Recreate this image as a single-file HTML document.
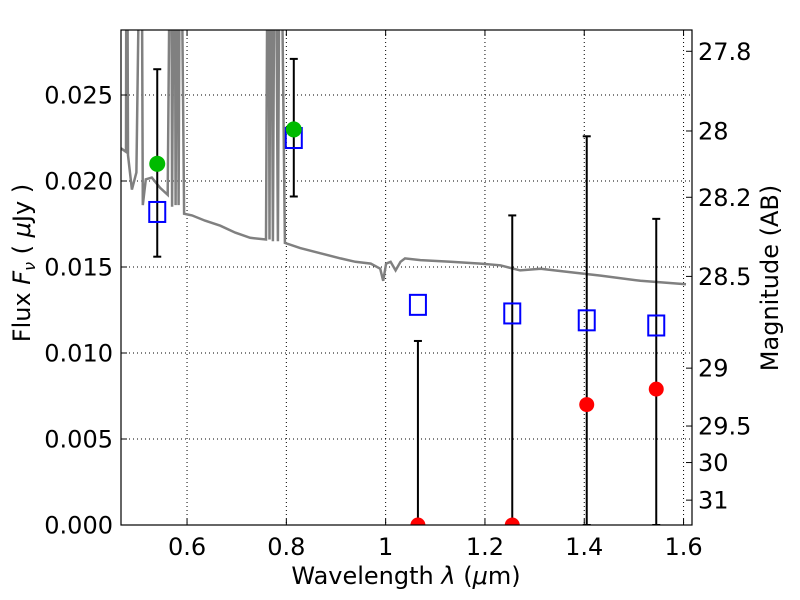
<!DOCTYPE html>
<html><head><meta charset="utf-8"><style>
body{margin:0;background:#fff}
svg{display:block;font-family:"DejaVu Sans","Liberation Sans",sans-serif}
</style></head><body>
<svg id="c" width="800" height="600"></svg>
<script>
const spectrum=[[0.467,0.0219],[0.477,0.0217],[0.478,0.04],[0.479,0.04],[0.481,0.0215],[0.489,0.0195],[0.498,0.0205],[0.507,0.04],[0.508,0.04],[0.511,0.0186],[0.517,0.0201],[0.529,0.0202],[0.546,0.0196],[0.561,0.0192],[0.567,0.04],[0.568,0.04],[0.570,0.0185],[0.574,0.04],[0.575,0.04],[0.577,0.0186],[0.580,0.04],[0.581,0.04],[0.583,0.0186],[0.586,0.04],[0.587,0.04],[0.594,0.0181],[0.610,0.018],[0.636,0.0177],[0.667,0.0174],[0.697,0.017],[0.727,0.0167],[0.759,0.0166],[0.763,0.04],[0.764,0.04],[0.766,0.0166],[0.768,0.04],[0.769,0.04],[0.773,0.0165],[0.777,0.04],[0.778,0.04],[0.783,0.0165],[0.787,0.04],[0.788,0.04],[0.797,0.0164],[0.828,0.0161],[0.868,0.0158],[0.909,0.0155],[0.939,0.0153],[0.970,0.0152],[0.989,0.0149],[0.995,0.0142],[1.001,0.0152],[1.010,0.0153],[1.020,0.0148],[1.030,0.0153],[1.039,0.0155],[1.070,0.0154],[1.131,0.0153],[1.191,0.0152],[1.231,0.0151],[1.271,0.0148],[1.312,0.0149],[1.373,0.0147],[1.433,0.0145],[1.513,0.0142],[1.605,0.014]];
const bandX=[0.54,0.815,1.065,1.255,1.405,1.545];
const modelFlux=[0.0182,0.0225,0.0128,0.0123,0.0119,0.0116];
const errLo=[0.0156,0.0191,0,0,0,0];
const errHi=[0.0265,0.0271,0.0107,0.0180,0.0226,0.0178];
const greenX=[0.54,0.815];
const greenF=[0.021,0.023];
const redX=[1.065,1.255,1.405,1.545];
const redF=[0,0,0.0070,0.0079];
const xTicks=[0.6,0.8,1.0,1.2,1.4,1.6];
const xTickLabels=["0.6","0.8","1","1.2","1.4","1.6"];
const yTicks=[0,0.005,0.010,0.015,0.020,0.025];
const yTickLabels=["0.000","0.005","0.010","0.015","0.020","0.025"];
const magTicks=[27.8,28,28.2,28.5,29,29.5,30,31];
const magLabels=["27.8","28","28.2","28.5","29","29.5","30","31"];

const L=121,R=692,T=30,B=525;
const xmin=0.467,xmax=1.617,ymin=0,ymax=0.02878;
const X=v=>L+(v-xmin)/(xmax-xmin)*(R-L);
const Y=v=>B-(v-ymin)/(ymax-ymin)*(B-T);
const svg=document.getElementById('c');
const NS='http://www.w3.org/2000/svg';
function mk(tag,at,parent){const e=document.createElementNS(NS,tag);for(const k in at)e.setAttribute(k,at[k]);(parent||svg).appendChild(e);return e;}

const defs=mk('defs',{});
const cp=mk('clipPath',{id:'clip'},defs);mk('rect',{x:L,y:T,width:R-L,height:B-T},cp);

xTicks.forEach((t,i)=>{
 const g=mk('line',{x1:X(t),x2:X(t),y1:T,y2:B,stroke:'#000','stroke-width':1,'stroke-dasharray':'1,3'});
 
 
});
yTicks.forEach(t=>{
 const g=mk('line',{x1:L,x2:R,y1:Y(t),y2:Y(t),stroke:'#000','stroke-width':1,'stroke-dasharray':'1,3'});
 
 
});

let d='';spectrum.forEach((p,i)=>{d+=(i?'L':'M')+X(p[0]).toFixed(1)+','+Y(p[1]).toFixed(1);});
const sp=mk('path',{d:d,fill:'none',stroke:'#808080','stroke-width':2.5,'clip-path':'url(#clip)'});



bandX.forEach((x,i)=>{
 const g=mk('g',{stroke:'#000','stroke-width':2,'clip-path':'url(#clip)'});
 
 
 mk('line',{x1:X(x),x2:X(x),y1:Y(errLo[i]),y2:Y(errHi[i])},g);
 mk('line',{x1:X(x)-4,x2:X(x)+4,y1:Y(errLo[i]),y2:Y(errLo[i])},g);
 mk('line',{x1:X(x)-4,x2:X(x)+4,y1:Y(errHi[i]),y2:Y(errHi[i])},g);
});
bandX.forEach((x,i)=>{
 const s=mk('rect',{x:X(x)-8,y:Y(modelFlux[i])-10,width:16,height:20,fill:'none',stroke:'#0000ff','stroke-width':2});
 
 
});
greenX.forEach((x,i)=>{
 const c=mk('circle',{cx:X(x),cy:Y(greenF[i]),r:8,fill:'#00bb00'});
 
 
});
redX.forEach((x,i)=>{
 const c=mk('circle',{cx:X(x),cy:Y(redF[i]),r:7.5,fill:'#ff0000','clip-path':'url(#clip)'});
 
 
});

const fr=mk('rect',{x:L,y:T,width:R-L,height:B-T,fill:'none',stroke:'#000','stroke-width':1.2});



xTicks.forEach((t,i)=>{
 mk('line',{x1:X(t),x2:X(t),y1:B,y2:B-6,stroke:'#000'});
 mk('line',{x1:X(t),x2:X(t),y1:T,y2:T+6,stroke:'#000'});
 const tx=mk('text',{x:X(t),y:B+30,'text-anchor':'middle','font-size':24});
 tx.textContent=xTickLabels[i];
 
 
});
yTicks.forEach((t,i)=>{
 mk('line',{x1:L,x2:L+6,y1:Y(t),y2:Y(t),stroke:'#000'});
 const tx=mk('text',{x:L-8,y:Y(t)+8.5,'text-anchor':'end','font-size':24});
 tx.textContent=yTickLabels[i];
 
 
});
magTicks.forEach((m,i)=>{
 const f=Math.pow(10,(23.9-m)/2.5);
 mk('line',{x1:R,x2:R-6,y1:Y(f),y2:Y(f),stroke:'#000'});
 const tx=mk('text',{x:R+6,y:Y(f)+8.5,'font-size':24});
 tx.textContent=magLabels[i];
 
 
});

let t1=mk('text',{x:406,y:584,'text-anchor':'middle','font-size':24});
t1.innerHTML='Wavelength  <tspan font-style="italic">λ</tspan> (<tspan font-style="italic">μ</tspan>m)';


let t2=mk('text',{x:0,y:0,'text-anchor':'middle','font-size':24,transform:'translate(30,263) rotate(-90)'});
t2.innerHTML='Flux  <tspan font-style="italic">F</tspan><tspan font-style="italic" font-size="16" dy="5">ν</tspan><tspan dy="-5">  ( </tspan><tspan font-style="italic">μ</tspan>Jy )';


let t3=mk('text',{x:0,y:0,'text-anchor':'middle','font-size':24,transform:'translate(778,278) rotate(-90)'});
t3.textContent='Magnitude (AB)';


</script>
</body></html>
